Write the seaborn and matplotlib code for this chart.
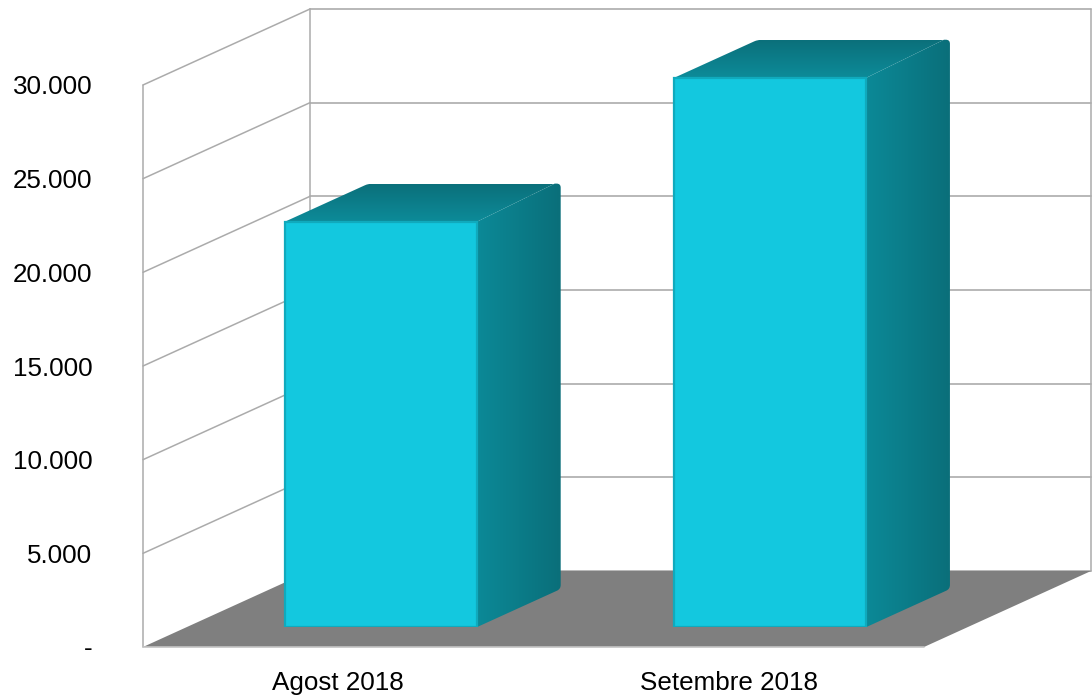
import numpy as np
import matplotlib
matplotlib.use('Agg')
import matplotlib.pyplot as plt
import seaborn as sns
from matplotlib.colors import LinearSegmentedColormap
from matplotlib.patches import PathPatch, Polygon
from matplotlib.path import Path

months = ['Agost 2018', 'Setembre 2018']
values = [21640, 29320]
tick_values = [0, 5000, 10000, 15000, 20000, 25000, 30000]
tick_labels = ['-', '5.000', '10.000', '15.000', '20.000', '25.000', '30.000']

W, H = 1092, 695
FONT = 18.7
GRID = '#ababab'

sns.set_theme(style='white')
plt.rcParams['font.family'] = ['Liberation Sans', 'DejaVu Sans']

fig = plt.figure(figsize=(W / 100, H / 100), dpi=100)

def box(left, right, bottom, top):
    # pixel box, y measured from the top of the picture
    return [left / W, (H - bottom) / H, (right - left) / W, (bottom - top) / H]

# front plane of the chart, carries the ticks, walls and floor
ax = fig.add_axes(box(143, 924, 647, 85))
ax.set_xlim(-0.5, 1.5)
ax.set_ylim(0, 30000)
ax.patch.set_alpha(0)
sns.despine(ax=ax, left=True, bottom=True)
ax.set_yticks(tick_values)
ax.set_yticklabels(tick_labels, fontsize=FONT, color='black')
ax.set_xticks([0, 1])
ax.set_xticklabels(months, fontsize=FONT, color='black')
ax.tick_params(axis='y', length=0, pad=36.5)
ax.tick_params(axis='x', length=0, pad=17)

# pixels to data units
sx = 2 / 781
sy = 30000 / 562
back_x = 167 * sx
back_y = 76 * sy

ax.add_patch(Polygon([(-0.5, 0), (1.5, 0), (1.5 + back_x, back_y), (-0.5 + back_x, back_y)],
                     closed=True, fc='#7f7f7f', ec='none', clip_on=False, zorder=1))
ax.plot([-0.5, 1.5], [0, 0], color='#c4c4c4', lw=1.2, clip_on=False, zorder=2)
for v in tick_values:
    ax.plot([-0.5 + back_x, 1.5 + back_x], [v + back_y, v + back_y], color=GRID, lw=1.2, clip_on=False, zorder=0.5)
    if v > 0:
        ax.plot([-0.5, -0.5 + back_x], [v, v + back_y], color=GRID, lw=1.1, clip_on=False, zorder=0.5)
ax.plot([-0.5, -0.5], [0, 30000], color=GRID, lw=1.1, clip_on=False, zorder=0.5)
ax.plot([-0.5 + back_x] * 2, [back_y, 30000 + back_y], color=GRID, lw=1.1, clip_on=False, zorder=0.5)
ax.plot([1.5 + back_x] * 2, [back_y, 30000 + back_y], color=GRID, lw=1.1, clip_on=False, zorder=0.5)

# plane of the bar fronts, set back from the front plane
ax_bars = fig.add_axes(box(186.5, 965, 627, 65))
ax_bars.patch.set_alpha(0)
sns.barplot(x=months, y=values, ax=ax_bars, color='#13c8df', saturation=1, width=192 / 389,
            edgecolor='#10aabd', linewidth=1.6, zorder=5)
ax_bars.set_xlim(-0.5, 1.5)
ax_bars.set_ylim(0, 30000)
ax_bars.axis('off')

sx2 = 2 / 778.5
depth_x = 83.5 * sx2
depth_y = 38 * sy

def rounded(points, corners, r=4):
    # closed path, listed corners cut by a curve about r pixels long
    verts, codes = [], []
    n = len(points)
    for i, p in enumerate(points):
        p = np.array(p)
        if i in corners:
            before = np.array(points[i - 1])
            after = np.array(points[(i + 1) % n])
            a = p + (before - p) * r / np.hypot(*((before - p) / (sx2, sy)))
            b = p + (after - p) * r / np.hypot(*((after - p) / (sx2, sy)))
            verts += [a, p, b]
            codes += [Path.LINETO, Path.CURVE3, Path.CURVE3]
        else:
            verts.append(p)
            codes.append(Path.LINETO)
    codes[0] = Path.MOVETO
    verts.append(verts[0])
    codes.append(Path.CLOSEPOLY)
    return Path(verts, codes)

side_cmap = LinearSegmentedColormap.from_list('side', ['#0c8997', '#0a6f7a'])
top_cmap = LinearSegmentedColormap.from_list('top', ['#0d8b99', '#0b707b'])

for bar in ax_bars.patches:
    x0, x1 = bar.get_x(), bar.get_x() + bar.get_width()
    h = bar.get_height()
    # the far top corner is shared, the side face takes a small piece of the top edge to round it
    far = x1 + depth_x - 6 * sx2
    side = PathPatch(rounded([(x1, 0), (x1 + depth_x, depth_y), (x1 + depth_x, h + depth_y), (far, h + depth_y), (x1, h)], [1, 2]),
                     transform=ax_bars.transData, fc='none', ec='none')
    top = PathPatch(rounded([(x0, h), (x1, h), (far, h + depth_y), (x0 + depth_x, h + depth_y)], [3]),
                    transform=ax_bars.transData, fc='none', ec='none')
    ax_bars.add_patch(side)
    ax_bars.add_patch(top)
    im = ax_bars.imshow(np.linspace(0, 1, 64).reshape(1, -1), cmap=side_cmap, aspect='auto',
                        extent=(x1, x1 + depth_x, 0, h + depth_y), zorder=3)
    im.set_clip_box(fig.bbox)
    im.set_clip_path(side)
    im = ax_bars.imshow(np.linspace(1, 0, 64).reshape(-1, 1), cmap=top_cmap, aspect='auto',
                        extent=(x0, x1 + depth_x, h, h + depth_y), zorder=4)
    im.set_clip_box(fig.bbox)
    im.set_clip_path(top)

ax_bars.set_xlim(-0.5, 1.5)
ax_bars.set_ylim(0, 30000)

plt.savefig('out.png', dpi=100)
